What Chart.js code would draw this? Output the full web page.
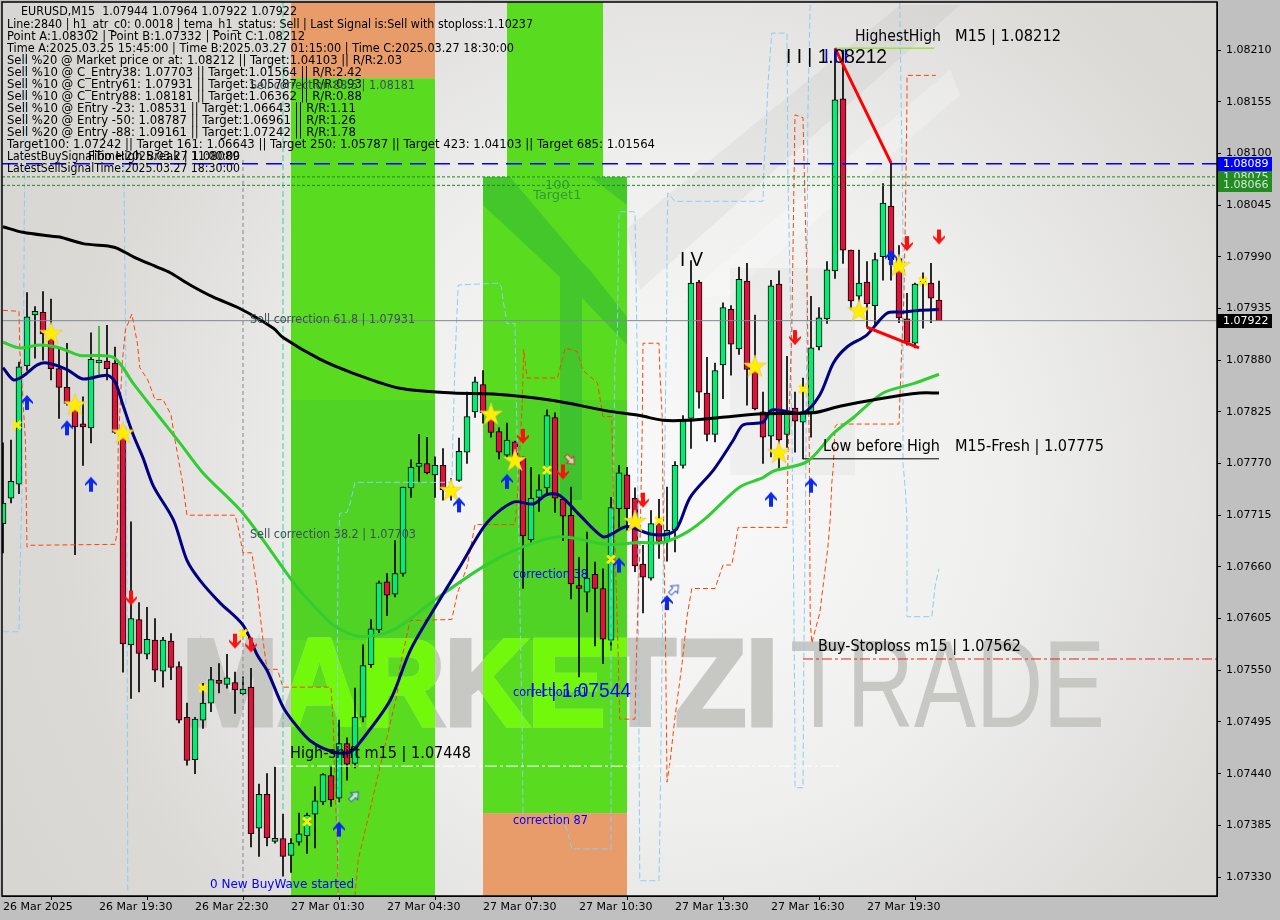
<!DOCTYPE html>
<html>
<head>
<meta charset="utf-8">
<title>EURUSD M15</title>
<script src="https://cdn.jsdelivr.net/npm/chart.js@4"></script>
<style>
  html, body { margin:0; padding:0; background:#c0c0c0; }
  canvas { display:block; }
</style>
</head>
<body>
<canvas id="chart" width="1280" height="920" style="width:1280px;height:920px"></canvas>
<script>
/* ── Candles, one per 15 minutes ── */
const opens = [
  1.07706,1.07733,1.07748,1.07874,1.07928,1.07931,1.07908,1.07871,1.07851,1.07834,
  1.07811,1.07808,1.07877,1.07879,1.07877,1.07802,1.07577,1.07604,1.07567,1.07582,
  1.07549,1.07581,1.07554,1.07500,1.07455,1.07497,1.07515,1.07539,1.07535,1.07537,
  1.07525,1.07532,1.07382,1.07418,1.07368,1.07371,1.07353,1.07367,1.07374,1.07397,
  1.07410,1.07438,1.07414,1.07472,1.07451,1.07500,1.07556,1.07593,1.07644,1.07631,
  1.07653,1.07744,1.07767,1.07770,1.07758,1.07768,1.07742,1.07752,1.07782,1.07825,
  1.07854,1.07824,1.07804,1.07779,1.07793,1.07777,1.07689,1.07734,1.07744,1.07819,
  1.07732,1.07715,1.07640,1.07633,1.07652,1.07637,1.07582,1.07722,1.07758,1.07733,
  1.07663,1.07648,1.07706,1.07687,1.07699,1.07768,1.07818,1.07963,1.07845,1.07801,
  1.07875,1.07934,1.07892,1.07964,1.07870,1.07825,1.07799,1.07961,1.07801,1.07829,
  1.07814,1.07825,1.07894,1.07924,1.07975,1.08158,1.07997,1.07948,1.07963,1.07938,
  1.07990,1.08044,1.07988,1.07924,1.07898,1.07961,1.07962,1.07944];
const highs = [
  1.07792,1.07795,1.07878,1.07952,1.07937,1.07953,1.07945,1.07892,1.07898,1.07837,
  1.07841,1.07909,1.07916,1.07917,1.07894,1.07805,1.07708,1.07622,1.07617,1.07605,
  1.07585,1.07589,1.07559,1.07515,1.07500,1.07536,1.07553,1.07557,1.07567,1.07548,
  1.07543,1.07552,1.07429,1.07440,1.07447,1.07397,1.07371,1.07398,1.07398,1.07426,
  1.07440,1.07447,1.07497,1.07478,1.07531,1.07577,1.07604,1.07645,1.07653,1.07688,
  1.07745,1.07774,1.07801,1.07798,1.07777,1.07786,1.07754,1.07797,1.07846,1.07862,
  1.07869,1.07832,1.07808,1.07813,1.07794,1.07777,1.07766,1.07758,1.07827,1.07824,
  1.07733,1.07745,1.07670,1.07697,1.07665,1.07658,1.07734,1.07768,1.07766,1.07744,
  1.07683,1.07720,1.07732,1.07745,1.07772,1.07821,1.07986,1.07965,1.07883,1.07877,
  1.07941,1.07938,1.07979,1.07983,1.07928,1.07846,1.07965,1.07975,1.07884,1.07846,
  1.07861,1.07948,1.07936,1.07985,1.08211,1.08210,1.07997,1.07997,1.07985,1.07994,
  1.08068,1.08090,1.08002,1.07951,1.07962,1.07973,1.07983,1.07964];
const lows = [
  1.07675,1.07728,1.07738,1.07869,1.07882,1.07880,1.07859,1.07818,1.07832,1.07673,
  1.07768,1.07792,1.07864,1.07859,1.07802,1.07548,1.07520,1.07527,1.07562,1.07538,
  1.07532,1.07540,1.07494,1.07449,1.07440,1.07488,1.07506,1.07526,1.07531,1.07504,
  1.07524,1.07362,1.07352,1.07363,1.07366,1.07331,1.07335,1.07364,1.07355,1.07361,
  1.07407,1.07405,1.07410,1.07433,1.07446,1.07495,1.07553,1.07590,1.07608,1.07628,
  1.07650,1.07734,1.07751,1.07759,1.07734,1.07731,1.07731,1.07751,1.07770,1.07819,
  1.07813,1.07798,1.07775,1.07776,1.07768,1.07637,1.07684,1.07719,1.07736,1.07718,
  1.07688,1.07626,1.07543,1.07612,1.07576,1.07557,1.07571,1.07702,1.07699,1.07655,
  1.07611,1.07646,1.07669,1.07666,1.07676,1.07765,1.07786,1.07829,1.07794,1.07793,
  1.07839,1.07864,1.07886,1.07832,1.07827,1.07770,1.07777,1.07765,1.07787,1.07782,
  1.07775,1.07798,1.07891,1.07919,1.07967,1.07983,1.07934,1.07933,1.07915,1.07917,
  1.07965,1.07965,1.07920,1.07896,1.07893,1.07914,1.07920,1.07922];
const closes = [
  1.07728,1.07751,1.07873,1.07926,1.07932,1.07908,1.07871,1.07851,1.07834,1.07809,
  1.07809,1.07881,1.07879,1.07871,1.07803,1.07578,1.07605,1.07568,1.07583,1.07550,
  1.07582,1.07553,1.07497,1.07454,1.07498,1.07515,1.07540,1.07536,1.07542,1.07529,
  1.07530,1.07376,1.07418,1.07372,1.07370,1.07352,1.07366,1.07376,1.07396,1.07411,
  1.07439,1.07412,1.07472,1.07450,1.07500,1.07555,1.07594,1.07643,1.07630,1.07653,
  1.07745,1.07766,1.07769,1.07760,1.07768,1.07742,1.07745,1.07783,1.07820,1.07857,
  1.07824,1.07803,1.07782,1.07795,1.07774,1.07693,1.07733,1.07742,1.07821,1.07733,
  1.07714,1.07642,1.07637,1.07648,1.07637,1.07583,1.07723,1.07760,1.07722,1.07661,
  1.07649,1.07706,1.07687,1.07699,1.07768,1.07815,1.07962,1.07846,1.07801,1.07869,
  1.07936,1.07897,1.07966,1.07870,1.07828,1.07798,1.07959,1.07795,1.07825,1.07815,
  1.07825,1.07893,1.07925,1.07976,1.08157,1.07997,1.07943,1.07962,1.07940,1.07987,
  1.08047,1.07987,1.07925,1.07899,1.07961,1.07964,1.07946,1.07922];

/* ── Moving averages ── */
const blackIdx = [0,2.5,5.9,7.1,10,13.4,14.3,16.3,19.3,20.9,23.4,26.3,29.6,33.8,35,39.6,43.8,49.6,56.3,61.3,68.8,75.5,79.6,82.5,85.5,89.6,95,101.3,104.6,109.6,114.6,117];
const blackVals = [1.08022,1.08016,1.08012,1.08011,1.08004,1.08001,1.07999,1.07990,1.07979,1.07973,1.07960,1.07947,1.07935,1.07914,1.07904,1.07881,1.07866,1.07850,1.07845,1.07844,1.07837,1.07826,1.07821,1.07816,1.07816,1.07819,1.07823,1.07824,1.07831,1.07839,1.07845,1.07845];
const navyIdx = [0,1.3,2.5,4.3,5.5,8,10,13,14,15,16.3,17.5,18.8,21.3,23,24.6,27.1,30,31.8,33,35,36.3,38.4,41.3,43.4,44.6,48.4,50.9,54.3,57.1,60.5,63.8,66.3,68,69.6,72.1,75,76.3,78,80.9,83.1,84.3,85.9,88.8,91.3,92.5,95,96.1,100,102.1,103.8,105.5,108,110.5,112.5,114.6,117];
const navyVals = [1.07872,1.07859,1.07863,1.07875,1.07877,1.07870,1.07860,1.07864,1.07857,1.07832,1.07800,1.07776,1.07746,1.07710,1.07667,1.07646,1.07622,1.07598,1.07566,1.07550,1.07511,1.07495,1.07475,1.07463,1.07463,1.07473,1.07518,1.07571,1.07621,1.07660,1.07707,1.07729,1.07727,1.07737,1.07736,1.07715,1.07692,1.07696,1.07703,1.07695,1.07695,1.07702,1.07734,1.07763,1.07795,1.07811,1.07814,1.07827,1.07824,1.07843,1.07877,1.07894,1.07907,1.07930,1.07931,1.07933,1.07934];
const greenIdx = [0,2.1,4.6,7.1,9.6,13.8,16.3,19.6,22.1,25,30,35.9,37.1,41.3,44.6,48.8,54.3,60,64.6,69.6,75.5,79.6,82.5,85.5,88,92.1,95,96.3,100.5,103.8,106.3,110,113.8,117];
const greenVals = [1.07899,1.07893,1.07896,1.07893,1.07885,1.07883,1.07855,1.07819,1.07792,1.07760,1.07717,1.07648,1.07635,1.07598,1.07586,1.07593,1.07627,1.07660,1.07680,1.07692,1.07684,1.07686,1.07686,1.07697,1.07713,1.07745,1.07755,1.07762,1.07772,1.07802,1.07819,1.07845,1.07855,1.07865];

/* ── Dashed envelopes ── */
const orangeIdx = [0,2,2.1,2.8,3,3.4,14,14.3,14.4,14.9,15.3,16.1,16.8,17.1,18.1,19,20,21,21.5,22.4,23,29,29.4,30,31.1,31.8,32.5,33,34.3,35,41,41.3,41.5,41.8,41.9,44,44.4,49.3,49.6,50.9,56.1,56.8,58,59,64,64.3,64.9,65.1,65.5,69.3,70.3,71.8,72.5,74.3,75,76.1,76.3,76.8,77.1,79,79.3,79.6,79.9,80,82,82.1,82.4,82.5,82.8,83,83.4,84,84.9,85.5,86.1,89,90,91.1,91.9,98,98.1,98.6,99,100,100.3,100.5,100.8,100.9,101.1,102.1,102.5,103.1,103.4,103.6,103.8,104,104.3,112,112.3,112.6,112.8,113,113,116.6];
const orangeVals = [1.07933,1.07932,1.07891,1.07795,1.07681,1.07683,1.07684,1.07699,1.07788,1.07877,1.07912,1.07929,1.07898,1.07872,1.07859,1.07838,1.07838,1.07822,1.07795,1.07752,1.07715,1.07715,1.07702,1.07675,1.07675,1.07635,1.07582,1.07551,1.07551,1.07532,1.07532,1.07490,1.07426,1.07362,1.07310,1.07310,1.07348,1.07526,1.07553,1.07603,1.07604,1.07632,1.07660,1.07705,1.07705,1.07734,1.07834,1.07891,1.07861,1.07861,1.07893,1.07889,1.07869,1.07856,1.07820,1.07820,1.07739,1.07596,1.07498,1.07498,1.07603,1.07675,1.07806,1.07898,1.07898,1.07869,1.07820,1.07734,1.07596,1.07431,1.07454,1.07500,1.07558,1.07607,1.07637,1.07637,1.07662,1.07662,1.07702,1.07702,1.07770,1.07912,1.08141,1.08138,1.08032,1.07965,1.07774,1.07603,1.07579,1.07611,1.07639,1.07680,1.07710,1.07749,1.07768,1.07809,1.07812,1.07812,1.07883,1.07944,1.08032,1.08160,1.08183,1.08183];
const skyIdx = [0,2,2.1,2.4,2.6,2.8,2.9,15.1,15.3,15.5,15.6,15.7,41.9,41.8,41.9,42.1,43,43.4,44,55.9,56.1,56.5,56.9,62,62.3,62.5,62.9,63,64,64.1,64.4,64.6,64.9,65,65.1,69.9,70.6,71.1,76,76,76.3,76.5,76.8,77,78.8,79,79.3,79.4,79.6,82,82.1,82.5,83,83,83.1,84,95,95.1,95.4,95.6,96,96.1,98,98.1,98.4,98.8,99,99,100,100.1,100.3,100.5,100.6,100.9,101,112.1,112.5,112.5,112.8,113,113,116.1,116.5,117];
const skyVals = [1.07591,1.07591,1.07646,1.07752,1.07944,1.08208,null,1.08088,1.07933,1.07646,1.07313,null,1.07311,1.07579,1.07675,1.07717,1.07718,1.07728,1.07750,1.07750,1.07752,1.07880,1.07960,1.07962,1.07958,1.07944,1.07925,1.07919,1.07919,1.07869,1.07739,1.07622,1.07486,1.07394,null,1.07394,1.07377,1.07360,1.07360,1.07625,1.07742,1.07880,1.07909,1.08038,1.08038,1.08037,1.07869,1.07625,1.07326,1.07326,1.07373,1.07639,1.07958,1.08011,1.08058,1.08049,1.08049,1.08082,1.08127,1.08171,1.08217,1.08228,1.08228,1.08085,1.07955,1.07675,1.07476,1.07425,1.07425,1.07558,1.07710,1.07944,1.08139,1.08260,null,1.08260,1.08018,1.07770,1.07742,1.07710,1.07607,1.07607,1.07639,1.07658];

/* ── Signals ── */
const starIdx = [6,9,15,56,61,64,79,94,97,107,112];
const starVals = [1.07909,1.07833,1.07803,1.07742,1.07823,1.07774,1.07709,1.07874,1.07782,1.07933,1.07981];
const crossIdx = [1.75,25,30,38,68,76,82,100,115];
const crossVals = [1.07811,1.07531,1.07589,1.07389,1.07763,1.07668,1.07709,1.07849,1.07964];
const buyIdx = [3,8,11,42,57,63,77,83,96,101,111];
const buyVals = [1.07835,1.07808,1.07748,1.07381,1.07726,1.07751,1.07662,1.07622,1.07732,1.07747,1.07989];
const sellIdx = [16,29,31,65,70,80,99,113,117];
const sellVals = [1.07627,1.07581,1.07577,1.07799,1.07761,1.07731,1.07904,1.08004,1.08011];
const hollowBuyIdx = [43.9,83.9];
const hollowBuyVals = [1.07416,1.07636];
const hollowSellIdx = [70.9];
const hollowSellVals = [1.07774];

/* ── Levels ── */
const levelBid = 1.07922, levelBuySignal = 1.08089, levelGreenA = 1.08075, levelGreenB = 1.08066;
const levelHighest = 1.08212, levelHighShift = 1.07448, levelLowBefore = 1.07775, levelStop = 1.07562;
const wedgeAIdx = [104,111], wedgeAVals = [1.08212,1.08090];
const wedgeBIdx = [108,114.5], wedgeBVals = [1.07915,1.07893];

/* ── Zones: start, end, top, bottom ── */
const zoneStart = [36,36,63,60,60];
const zoneEnd = [54,54,75,78,78];
const zoneTop = [1.08261,1.08180,1.08261,1.08075,1.07398];
const zoneBottom = [1.08180,1.07310,1.08075,1.07398,1.07310];
const zoneKind = ['o','g','g','g','o'];

/* ── Axes ── */
const yTicks = [1.08210,1.08155,1.08100,1.08045,1.07990,1.07935,1.07880,1.07825,1.07770,1.07715,1.07660,1.07605,1.07550,1.07495,1.07440,1.07385,1.07330];
const xTickIdx = [0,12,24,36,48,60,72,84,96,108];
const xTickLabels = ['26 Mar 2025','26 Mar 19:30','26 Mar 22:30','27 Mar 01:30','27 Mar 04:30','27 Mar 07:30','27 Mar 10:30','27 Mar 13:30','27 Mar 16:30','27 Mar 19:30'];
const X_MIN = -0.125, X_MAX = 151.75, Y_MIN = 1.073098, Y_MAX = 1.082611;

const headerLines = [
  'Line:2840 | h1_atr_c0: 0.0018 | tema_h1_status: Sell | Last Signal is:Sell with stoploss:1.10237',
  'Point A:1.08302 | Point B:1.07332 | Point C:1.08212',
  'Time A:2025.03.25 15:45:00 | Time B:2025.03.27 01:15:00 | Time C:2025.03.27 18:30:00',
  'Sell %20 @ Market price or at: 1.08212 || Target:1.04103 || R/R:2.03',
  'Sell %10 @ C_Entry38: 1.07703 || Target:1.01564 || R/R:2.42',
  'Sell %10 @ C_Entry61: 1.07931 || Target:1.05787 || R/R:0.93',
  'Sell %10 @ C_Entry88: 1.08181 || Target:1.06362 || R/R:0.88',
  'Sell %10 @ Entry -23: 1.08531 || Target:1.06643 || R/R:1.11',
  'Sell %20 @ Entry -50: 1.08787 || Target:1.06961 || R/R:1.26',
  'Sell %20 @ Entry -88: 1.09161 || Target:1.07242 || R/R:1.78',
  'Target100: 1.07242 || Target 161: 1.06643 || Target 250: 1.05787 || Target 423: 1.04103 || Target 685: 1.01564',
  'LatestBuySignalTime:2025.03.27 11:00:00',
  'LatestSellSignalTime:2025.03.27 18:30:00'
];
const headerWidths = [526,298,507,395,355,355,355,349,349,349,648,233,233];

const SANS = '"Liberation Sans", Arial, sans-serif';
const DEJA = '"DejaVu Sans", sans-serif';
const SLATE = '#3c5058', BLUE = '#0000ff';
/* text, x, y, font, colour, width */
const notes = [
  ['EURUSD,M15  1.07944 1.07964 1.07922 1.07922',21,12,'12px '+DEJA,'#000',276],
  ['Fibo High Break | 1.08089',88,157,'12px '+DEJA,'#000',152],
  ['Sell correction 88.5 | 1.08181',250,86,'12px '+DEJA,SLATE,165],
  ['Sell correction 61.8 | 1.07931',250,320,'12px '+DEJA,SLATE,165],
  ['Sell correction 38.2 | 1.07703',250,535,'12px '+DEJA,SLATE,166],
  ['100',545,186,'13px '+DEJA,'#2f9a3a',25],
  ['Target1',533,196,'13px '+DEJA,'#2f9a3a',49],
  ['HighestHigh',855,37,'15px '+DEJA,'#000',86],
  ['M15 | 1.08212',955,37,'15px '+DEJA,'#000',106],
  ['I I | 1.08212',786,57,'21px '+SANS,'#000',101],
  ['I I I',824,57,'21px '+SANS,BLUE,24],
  ['I V',680,260,'21px '+SANS,'#000',23],
  ['Low before High',823,447,'15px '+DEJA,'#000',117],
  ['M15-Fresh | 1.07775',955,447,'15px '+DEJA,'#000',149],
  ['Buy-Stoploss m15 | 1.07562',818,647,'15px '+DEJA,'#000',203],
  ['High-shift m15 | 1.07448',290,754,'15px '+DEJA,'#000',181],
  ['correction 38',513,575,'12px '+DEJA,BLUE,75],
  ['correction 61',513,693,'12px '+DEJA,BLUE,75],
  ['I I | 1.07544',530,691,'21px '+SANS,BLUE,101],
  ['correction 87',513,821,'12px '+DEJA,BLUE,75],
  ['0 New BuyWave started',210,885,'12px '+DEJA,BLUE,146]
];

const pts = (xs, ys) => xs.map((x, i) => ({ x, y: ys[i] }));

/* ── Marker sprites ── */
function sprite(w, h, draw) {
  const c = document.createElement('canvas');
  c.width = w; c.height = h;
  draw(c.getContext('2d'));
  return c;
}
function arrowSprite(color, up) {
  return sprite(14, 17, g => {
    if (!up) { g.translate(0, 17); g.scale(1, -1); }
    g.fillStyle = color;
    g.beginPath();
    [[7,1],[13,8],[13,10],[9,7],[9,16],[5,16],[5,7],[1,10],[1,8]].forEach((p, i) => i ? g.lineTo(p[0], p[1]) : g.moveTo(p[0], p[1]));
    g.closePath(); g.fill();
  });
}
function hollowSprite(color, angle) {
  return sprite(16, 16, g => {
    g.translate(8, 8); g.rotate(angle);
    g.strokeStyle = color; g.lineWidth = 1; g.fillStyle = 'rgba(255,255,255,0.6)';
    g.beginPath();
    [[0,-6],[5,0],[2,0],[2,6],[-2,6],[-2,0],[-5,0]].forEach((p, i) => i ? g.lineTo(p[0], p[1]) : g.moveTo(p[0], p[1]));
    g.closePath(); g.fill(); g.stroke();
  });
}
const starSprite = sprite(26, 26, g => {
  g.fillStyle = '#ffee00'; g.strokeStyle = '#e8c060'; g.lineWidth = 0.6;
  g.beginPath();
  for (let k = 0; k < 10; k++) {
    const r = k % 2 ? 4.6 : 12, a = -Math.PI / 2 + k * Math.PI / 5;
    g.lineTo(13 + r * Math.cos(a), 14 + r * Math.sin(a));
  }
  g.closePath(); g.fill(); g.stroke();
});

/* ── Drawing helpers ── */
function line(xs, ys, color, width, dash, order, tension) {
  return { type:'line', data:pts(xs, ys), borderColor:color, borderWidth:width, borderDash:dash || [],
    pointRadius:0, tension:tension || 0, fill:false, spanGaps:false, order:order };
}
function marks(xs, ys, style, order) {
  return { type:'scatter', data:pts(xs, ys), pointStyle:style, pointRadius:8, order:order || 1,
    borderColor:'transparent', backgroundColor:'transparent' };
}

const zonePlugin = {
  id:'zones',
  beforeDraw(chart) {
    const { ctx, chartArea:a } = chart;
    ctx.save();
    ctx.fillStyle = '#c0c0c0';
    ctx.fillRect(0, 0, chart.width, chart.height);
    const bg = ctx.createRadialGradient(680, 490, 40, 680, 490, 760);
    bg.addColorStop(0, '#f8f8f8');
    bg.addColorStop(0.4, '#efefee');
    bg.addColorStop(0.8, '#dbdad7');
    bg.addColorStop(1, '#d8d6d3');
    ctx.fillStyle = bg;
    ctx.fillRect(a.left, a.top, a.width, a.height);
    ctx.restore();
  },
  beforeDatasetsDraw(chart) {
    const { ctx, chartArea:a, scales:{ x, y } } = chart;
    ctx.save();
    ctx.beginPath(); ctx.rect(a.left, a.top, a.width, a.height); ctx.clip();

    /* logo bands behind everything */
    const poly = (list, fill) => {
      ctx.fillStyle = fill; ctx.beginPath();
      list.forEach((p, i) => i ? ctx.lineTo(p[0], p[1]) : ctx.moveTo(p[0], p[1]));
      ctx.closePath(); ctx.fill();
    };
    poly([[640,290],[960,5],[900,5],[625,230]], 'rgba(0,0,0,0.04)');
    poly([[680,300],[730,295],[960,95],[950,70]], 'rgba(255,255,255,0.25)');
    poly([[730,268],[855,268],[855,475],[730,475]], 'rgba(0,0,0,0.03)');

    const rects = zoneStart.map((s, i) => ({
      l:x.getPixelForValue(s), r:x.getPixelForValue(zoneEnd[i]),
      t:y.getPixelForValue(zoneTop[i]), b:y.getPixelForValue(zoneBottom[i]), k:zoneKind[i]
    }));
    rects.forEach(z => {
      ctx.fillStyle = z.k === 'o' ? '#e89c6a' : '#59dc20';
      ctx.fillRect(z.l, z.t, z.r - z.l, z.b - z.t);
    });

    /* darker logo strokes over the green */
    ctx.save();
    ctx.beginPath(); rects.filter(z => z.k === 'g').forEach(z => ctx.rect(z.l, z.t, z.r - z.l, z.b - z.t)); ctx.clip();
    const dark = 'rgba(40,170,60,0.42)';
    poly([[483,177],[483,205],[560,277],[560,500],[582,500],[582,298],[627,345],[627,317],[590,270],[582,262],[510,177]], dark);
    poly([[590,177],[627,177],[627,205]], dark);
    poly([[291,400],[627,400],[627,640],[291,640]], 'rgba(40,170,60,0.18)');
    ctx.restore();

    /* watermark */
    const wm = (fill) => {
      ctx.fillStyle = fill; ctx.strokeStyle = fill; ctx.lineWidth = 5; ctx.lineJoin = 'miter';
      ctx.textBaseline = 'alphabetic'; ctx.textAlign = 'left';
      ctx.font = 'bold 122px ' + SANS;
      ctx.fillText('MARKETZI', 182, 725, 596);
      ctx.strokeText('MARKETZI', 182, 725, 596);
      ctx.font = '125px ' + SANS;
      ctx.fillText('TRADE', 790, 727, 315);
    };
    wm('#c7c7c4');
    ctx.save();
    ctx.beginPath(); rects.filter(z => z.k === 'g').forEach(z => ctx.rect(z.l, z.t, z.r - z.l, z.b - z.t)); ctx.clip();
    wm('#72f80a');
    ctx.restore();
    ctx.restore();
  },
  afterDatasetsDraw(chart) {
    const { ctx } = chart;
    ctx.save();
    ctx.textBaseline = 'middle'; ctx.textAlign = 'left';
    ctx.font = '12px ' + DEJA; ctx.fillStyle = '#000';
    headerLines.forEach((t, i) => ctx.fillText(t, 7, 25 + i * 12, headerWidths[i]));
    notes.forEach(n => {
      ctx.font = n[3]; ctx.fillStyle = n[4];
      ctx.fillText(n[0], n[1], n[2], n[5]);
    });
    ctx.restore();
  },
  afterDraw(chart) {
    const { ctx, chartArea:a, scales:{ y } } = chart;
    ctx.save();
    ctx.strokeStyle = '#000'; ctx.lineWidth = 1.5;
    ctx.strokeRect(a.left, a.top, a.width, a.height);
    /* price boxes on the axis */
    const box = (v, bg, fg) => {
      const p = Math.round(y.getPixelForValue(v));
      ctx.fillStyle = bg; ctx.fillRect(a.right + 1, p - 7, 54, 14);
      ctx.fillStyle = fg; ctx.font = '11px ' + DEJA;
      ctx.textBaseline = 'middle'; ctx.textAlign = 'left';
      ctx.fillText(v.toFixed(5), a.right + 6, p, 46);
    };
    box(levelGreenA, '#228b22', '#d8e8d8');
    box(levelGreenB, '#228b22', '#d8e8d8');
    box(levelBuySignal, '#0000ff', '#ffffff');
    box(levelBid, '#000000', '#ffffff');
    ctx.restore();
  }
};

const idxAll = opens.map((_, i) => i);
new Chart(document.getElementById('chart'), {
  data:{ datasets:[
    marks(starIdx, starVals, starSprite, 2),
    { type:'scatter', data:pts(crossIdx, crossVals), pointStyle:'crossRot', pointRadius:5.5, pointBorderWidth:3, pointBorderColor:'#ffee00', borderColor:'#ffee00', order:2 },
    marks(buyIdx, buyVals, arrowSprite('#0a28f0', true), 1),
    marks(sellIdx, sellVals, arrowSprite('#ff1010', false), 1),
    marks(hollowBuyIdx, hollowBuyVals, hollowSprite('#3a5ad0', Math.PI / 4), 1),
    marks(hollowSellIdx, hollowSellVals, hollowSprite('#e03030', Math.PI * 3 / 4), 1),
    line(wedgeAIdx, wedgeAVals, '#ff0000', 3, null, 3),
    line(wedgeBIdx, wedgeBVals, '#ff0000', 3, null, 3),
    line(blackIdx, blackVals, '#000000', 3, null, 4, 0.3),
    line(navyIdx, navyVals, '#000080', 3, null, 5, 0.3),
    line(greenIdx, greenVals, '#32cd32', 3, null, 6, 0.3),
    line([104,116.4], [levelHighest,levelHighest], '#7fe000', 1, null, 7),
    line([100,117], [levelLowBefore,levelLowBefore], '#000000', 1, null, 7),
    line([34,104.9], [levelHighShift,levelHighShift], '#ffffff', 1, [12,3,3,3], 7),
    line([100,X_MAX], [levelStop,levelStop], '#e02810', 1, [10,3,3,3], 7),
    line([X_MIN,X_MAX], [levelBuySignal,levelBuySignal], '#0000ff', 1.4, [16,8], 7),
    line([X_MIN,X_MAX], [levelGreenA,levelGreenA], '#1a8a1a', 1, [3,2], 7),
    line([X_MIN,X_MAX], [levelGreenB,levelGreenB], '#1a8a1a', 1, [3,2], 7),
    line([X_MIN,X_MAX], [levelBid,levelBid], '#808890', 1, null, 7),
    line(orangeIdx, orangeVals, '#ff4500', 1, [5,3], 8),
    line(skyIdx, skyVals, '#87cefa', 1, [6,3], 9),
    line([30,30], [1.08093,1.07313], '#808890', 1, [4,3], 10),
    line([35,35], [Y_MAX,1.07401], '#22dd99', 1, [6,3], 10),
    { type:'bar', data:idxAll.map(i => ({ x:i, y:[opens[i], closes[i]] })), grouped:false, barThickness:6,
      minBarLength:3, backgroundColor:idxAll.map(i => closes[i] >= opens[i] ? '#00ee76' : '#dc143c'),
      borderColor:'#000', borderWidth:1, borderSkipped:false, order:18 },
    { type:'bar', data:idxAll.map(i => ({ x:i, y:[lows[i], highs[i]] })), grouped:false, barThickness:1,
      backgroundColor:idxAll.map(i => i === 12 ? '#22b422' : '#000'), borderWidth:0, order:19 }
  ]},
  options:{
    responsive:false, animation:false, devicePixelRatio:1,
    layout:{ autoPadding:false, padding:{ left:2, top:2, right:0, bottom:0 } },
    plugins:{ legend:{ display:false }, tooltip:{ enabled:false } },
    events:[],
    scales:{
      x:{ type:'linear', min:X_MIN, max:X_MAX, bounds:'data', offset:false,
        grid:{ drawOnChartArea:false, tickLength:4, color:'#000' }, border:{ color:'#000' },
        afterBuildTicks:ax => { ax.ticks = xTickIdx.map(v => ({ value:v })); },
        afterFit:ax => { ax.height = 24; ax.paddingLeft = 0; ax.paddingRight = 0; },
        ticks:{ autoSkip:false, maxRotation:0, align:'start', color:'#000', padding:1,
          font:{ family:'DejaVu Sans', size:11 },
          callback:v => xTickLabels[xTickIdx.indexOf(v)] } },
      y:{ position:'right', min:Y_MIN, max:Y_MAX, bounds:'data',
        grid:{ drawOnChartArea:false, tickLength:4, color:'#000' }, border:{ color:'#000' },
        afterBuildTicks:ax => { ax.ticks = yTicks.map(v => ({ value:v })); },
        afterFit:ax => { ax.width = 63; ax.paddingTop = 0; ax.paddingBottom = 0; },
        ticks:{ autoSkip:false, color:'#000', padding:5,
          font:{ family:'DejaVu Sans', size:11 },
          callback:v => v.toFixed(5) } }
    }
  },
  plugins:[zonePlugin]
});
</script>
</body>
</html>
